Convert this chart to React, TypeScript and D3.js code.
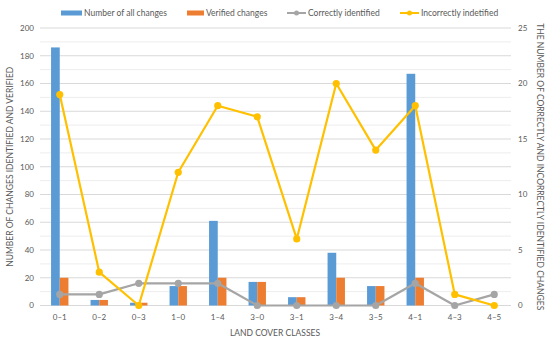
import * as d3 from 'd3';

const categories = ['0–1', '0–2', '0–3', '1–0', '1–4', '3–0', '3–1', '3–4', '3–5', '4–1', '4–3', '4–5'];
const allChanges = [186, 4, 2, 14, 61, 17, 6, 38, 14, 167, 0, 0];
const verifiedChanges = [20, 4, 2, 14, 20, 17, 6, 20, 14, 20, 0, 0];
const correctlyIdentified = [1, 1, 2, 2, 2, 0, 0, 0, 0, 2, 0, 1];
const incorrectlyIdentified = [19, 3, 0, 12, 18, 17, 6, 20, 14, 18, 1, 0];
const leftTicks = [0, 20, 40, 60, 80, 100, 120, 140, 160, 180, 200];
const rightTicks = [0, 5, 10, 15, 20, 25];

const BLUE = '#5B9BD5';
const ORANGE = '#ED7D31';
const GRAY = '#A5A5A5';
const YELLOW = '#FFC000';
const FONT = 'Lato, "Liberation Sans", sans-serif';

export default function App() {
  const width = 550;
  const height = 342;
  const plot = { left: 40, right: 514, top: 28, bottom: 305.5 };

  const x = d3.scaleBand<string>().domain(categories).range([plot.left, plot.right]);
  const bw = x.bandwidth();
  const inner = d3.scaleBand<string>().domain(['all', 'ver']).range([bw * 0.28, bw * 0.72]);
  const yL = d3.scaleLinear().domain([0, 200]).range([plot.bottom, plot.top]);
  const yR = d3.scaleLinear().domain([0, 25]).range([plot.bottom, plot.top]);
  const cx = (c: string) => (x(c) ?? 0) + bw / 2;

  const grid = d3.range(0, 201, 10);
  const line = d3
    .line<number>()
    .x((_, i) => cx(categories[i]));

  const lineSeries = [
    { name: 'Correctly identified', values: correctlyIdentified, color: GRAY },
    { name: 'Incorrectly indetified', values: incorrectlyIdentified, color: YELLOW },
  ];

  return (
    <svg width={width} height={height} style={{ position: 'absolute', left: 0, top: 0 }} fontFamily={FONT}>
      <rect width={width} height={height} fill="#fff" />
      {grid.map((g) => (
        <line
          key={g}
          x1={plot.left}
          x2={plot.right - 3}
          y1={yL(g)}
          y2={yL(g)}
          stroke={g % 20 === 0 ? '#D9D9D9' : '#EDEDED'}
          strokeWidth={1}
        />
      ))}
      {leftTicks.map((t) => (
        <text key={t} x={34} y={yL(t)} dy="0.35em" textAnchor="end" fontSize={8} fill="#595959">
          {t}
        </text>
      ))}
      {rightTicks.map((t) => (
        <text key={t} x={518} y={yR(t)} dy="0.35em" textAnchor="start" fontSize={8} fill="#595959">
          {t}
        </text>
      ))}
      {categories.map((c, i) => (
        <g key={c}>
          <rect
            x={(x(c) ?? 0) + (inner('all') ?? 0)}
            y={yL(allChanges[i])}
            width={inner.bandwidth()}
            height={yL(0) - yL(allChanges[i])}
            fill={BLUE}
          />
          <rect
            x={(x(c) ?? 0) + (inner('ver') ?? 0)}
            y={yL(verifiedChanges[i])}
            width={inner.bandwidth()}
            height={yL(0) - yL(verifiedChanges[i])}
            fill={ORANGE}
          />
          <text x={cx(c)} y={320} textAnchor="middle" fontSize={8} fill="#595959">
            {c}
          </text>
        </g>
      ))}
      {lineSeries.map((s) => (
        <g key={s.name}>
          <path d={line.y((d) => yR(d))(s.values) ?? ''} fill="none" stroke={s.color} strokeWidth={2.2} strokeLinejoin="round" />
          {s.values.map((v, i) => (
            <circle key={i} cx={cx(categories[i])} cy={yR(v)} r={3.6} fill={s.color} />
          ))}
        </g>
      ))}
      <text x={275} y={336} textAnchor="middle" fontSize={8.5} fill="#595959">
        LAND COVER CLASSES
      </text>
      <text
        transform={`translate(13,${(plot.top + plot.bottom) / 2}) rotate(-90)`}
        textAnchor="middle"
        fontSize={8.5}
        fill="#595959"
      >
        NUMBER OF CHANGES IDENTIFIED AND VERIFIED
      </text>
      <text
        transform={`translate(537,${(plot.top + plot.bottom) / 2}) rotate(90)`}
        textAnchor="middle"
        fontSize={8.5}
        fill="#595959"
      >
        THE NUMBER OF CORRECTLY AND INCORRECTLY IDENTIFIED CHANGES
      </text>
      {/* legend */}
      <g fontSize={8.5} fill="#595959">
        <rect x={61} y={10.5} width={21} height={5} fill={BLUE} />
        <text x={84} y={13} dy="0.35em">Number of all changes</text>
        <rect x={187} y={10.5} width={17} height={5} fill={ORANGE} />
        <text x={206} y={13} dy="0.35em">Verified changes</text>
        <line x1={287} x2={306} y1={13} y2={13} stroke={GRAY} strokeWidth={2} />
        <circle cx={296.5} cy={13} r={2.5} fill={GRAY} />
        <text x={308} y={13} dy="0.35em">Correctly identified</text>
        <line x1={400} x2={419} y1={13} y2={13} stroke={YELLOW} strokeWidth={2} />
        <circle cx={409.5} cy={13} r={2.5} fill={YELLOW} />
        <text x={421} y={13} dy="0.35em">Incorrectly indetified</text>
      </g>
    </svg>
  );
}
